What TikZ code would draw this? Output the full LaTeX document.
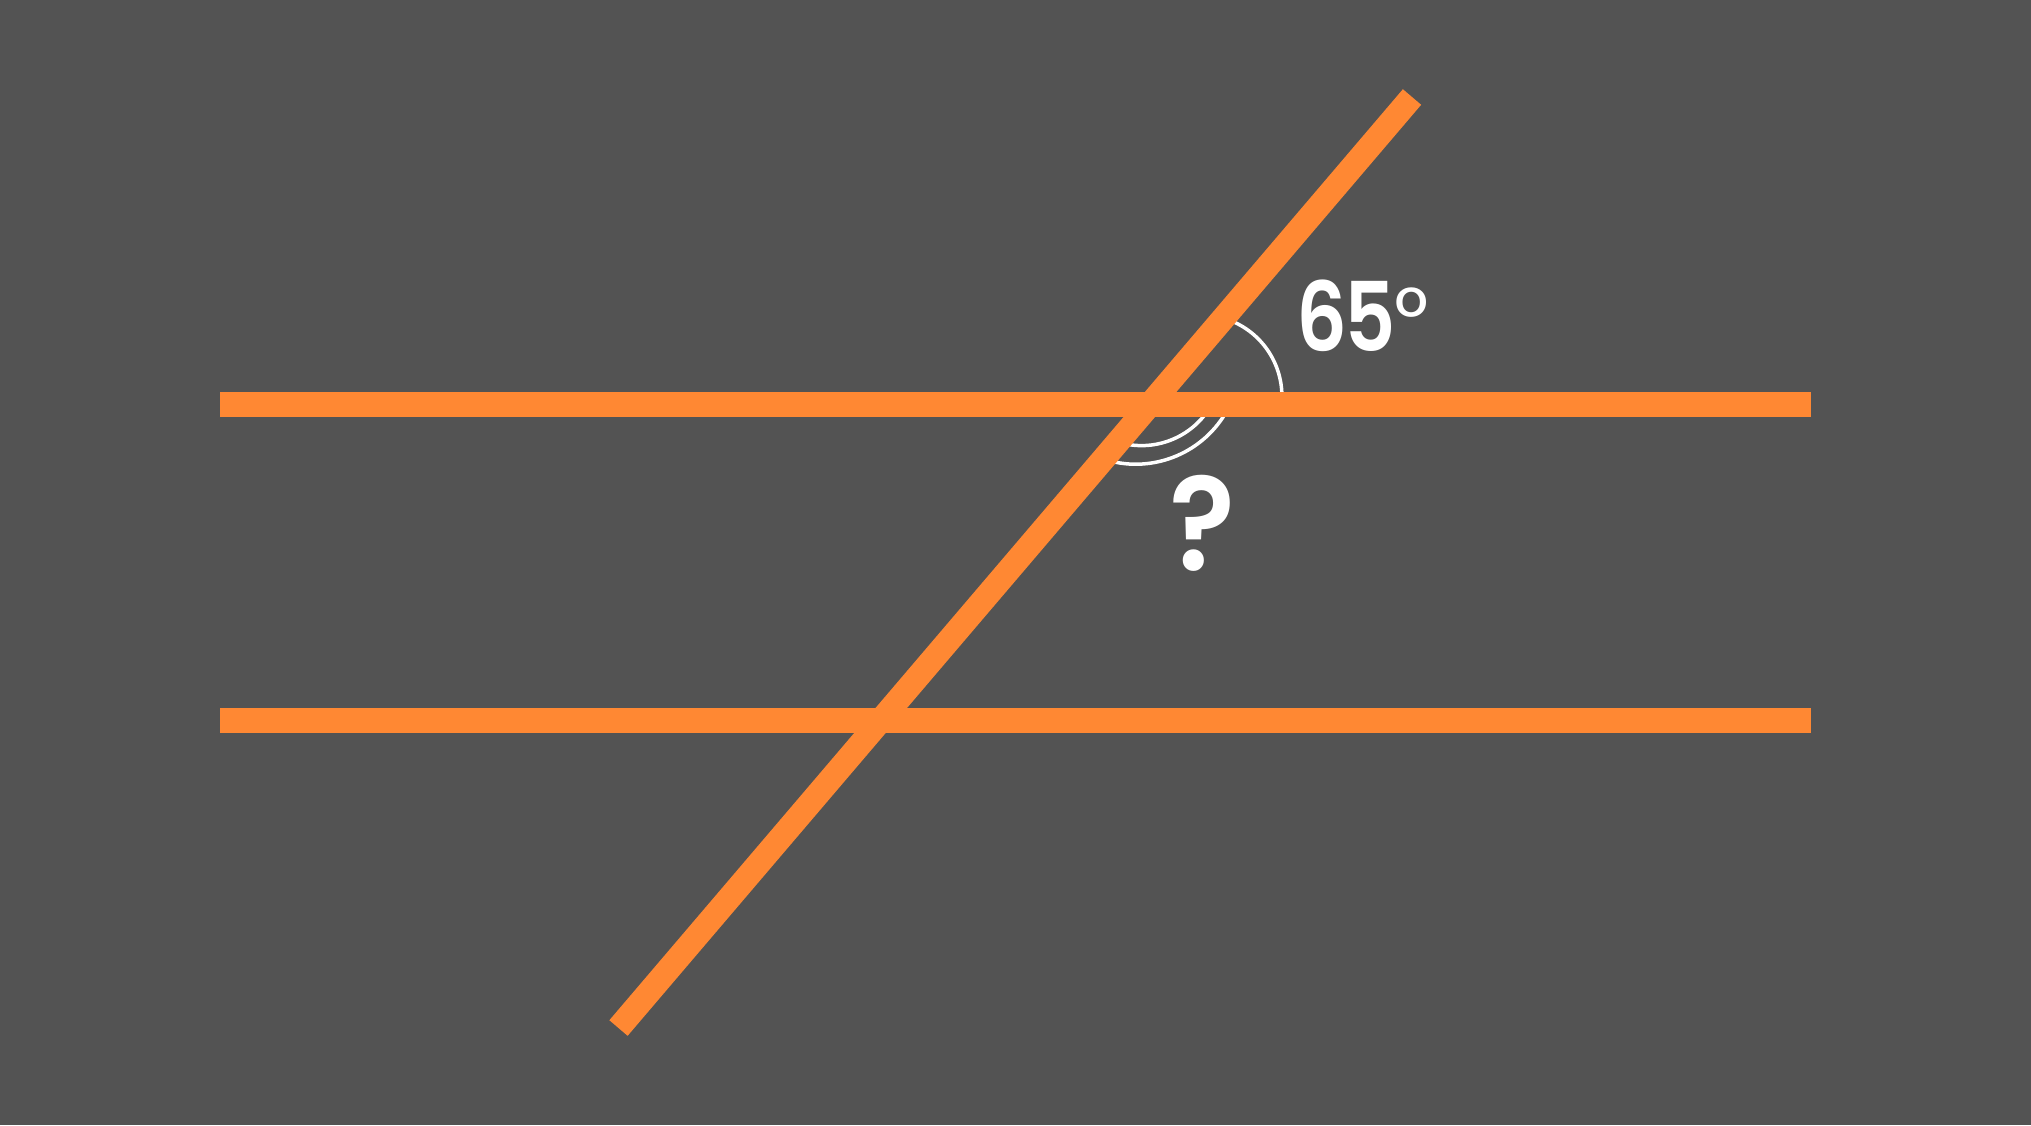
\documentclass[tikz,border=0pt]{standalone}
\usepackage{fontspec}
\setmainfont{Poppins}
\newfontfamily\lblfont{Poppins}[UprightFont=* SemiBold, FakeStretch=0.83]
\newfontfamily\qfont{Poppins}[UprightFont=* SemiBold, FakeStretch=0.93]
\newfontfamily\degfont{Poppins}
\definecolor{bg}{HTML}{535353}
\definecolor{orng}{HTML}{FF8833}
\tikzset{
  hline/.style={draw=orng, line width=25pt, line cap=butt},
  dline/.style={draw=orng, line width=24pt, line cap=butt},
  anglearc/.style={draw=white, line width=3.5pt},
  lbl/.style={text=white, inner sep=0pt}
}
\begin{document}
\begin{tikzpicture}[x=1pt,y=-1pt]
\fill[bg] (0,0) rectangle (2031,1125);
\useasboundingbox (0,0) rectangle (2031,1125);
% angle arcs (drawn first, lines cover their ends)
\draw[anglearc] (1200.6,396.2) ++(8:81.3) arc[start angle=8, end angle=-68, radius=81.3];
\draw[anglearc] (1141.5,365.1) ++(35:80.5) arc[start angle=35, end angle=105, radius=80.5];
\draw[anglearc] (1135.7,359.7) ++(28:104.5) arc[start angle=28, end angle=106, radius=104.5];
% lines
\coordinate (h1l) at (220,404.2);
\coordinate (h1r) at (1811,404.2);
\coordinate (h2l) at (220,720.4);
\coordinate (h2r) at (1811,720.4);
\coordinate (dtop) at (1412,97);
\coordinate (dbot) at (618.5,1028);
\draw[hline] (h1l) -- (h1r);
\draw[hline] (h2l) -- (h2r);
\draw[dline] (dbot) -- (dtop);
% labels
\node[lbl, anchor=base west, font=\lblfont\fontsize{96}{100}\selectfont] (given) at (1296,351.7) {6\kern-3pt5\kern-1pt{\degfont\fontsize{84}{90}\selectfont\raisebox{5pt}{°}}};
\node[lbl, anchor=base, font=\qfont\fontsize{132}{140}\selectfont] (unknown) at (1203,570) {?};
\end{tikzpicture}
\end{document}
